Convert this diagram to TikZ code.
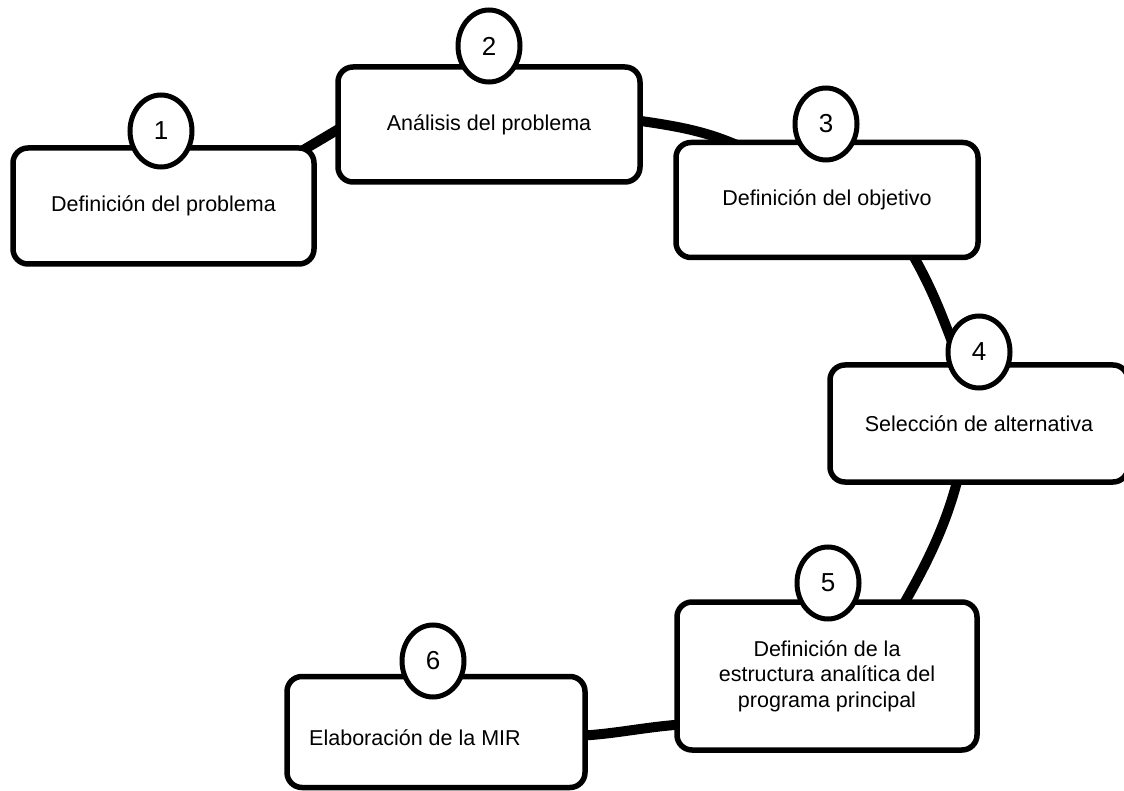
\documentclass[tikz,border=0pt]{standalone}
\usepackage{fontspec}
\setmainfont{Liberation Sans}
\usetikzlibrary{shapes.geometric,calc}
\pgfdeclarelayer{bg}
\pgfsetlayers{bg,main}
\begin{document}
\begin{tikzpicture}[x=1pt,y=-1pt,
  stepbox/.style={draw, line width=5.5pt, rounded corners=15pt, fill=white,
    font=\fontsize{21.5}{25.5}\selectfont, align=center, inner sep=0pt},
  numcirc/.style={ellipse, draw, line width=5pt, fill=white,
    minimum width=62pt, minimum height=72pt, inner sep=0pt,
    font=\fontsize{26}{28}\selectfont},
  lbl/.style={font=\fontsize{21.5}{25.5}\selectfont, inner sep=0pt},
  conn/.style={line width=10pt}]
\useasboundingbox (0,0) rectangle (1124,791);
\clip (0,0) rectangle (1124,791);
% boxes
\node[stepbox, minimum width=301pt, minimum height=116pt] (b1) at (163.5,206) {Definición del problema};
\node[stepbox, minimum width=302pt, minimum height=115pt] (b2) at (489,124.5) {Análisis del problema};
\node[stepbox, minimum width=302pt, minimum height=115pt] (b3) at (827,200) {Definición del objetivo};
\node[stepbox, minimum width=298pt, minimum height=117pt] (b4) at (979,423.5) {Selección de alternativa};
\node[stepbox, minimum width=300pt, minimum height=148pt] (b5) at (827,676) {Definición de la\\estructura analítica del\\programa principal};
\node[stepbox, minimum width=298pt, minimum height=111pt] (b6) at (436,732) {};
\node[lbl] (t6) at (415,738) {Elaboración de la MIR};
% number circles
\node[numcirc] (c1) at (161,131) {1};
\node[numcirc] (c2) at (489,46) {2};
\node[numcirc] (c3) at (826,124) {3};
\node[numcirc] (c4) at (979,352) {4};
\node[numcirc] (c5) at (828,583) {5};
\node[numcirc] (c6) at (433,661) {6};
% connectors (behind)
\begin{pgfonlayer}{bg}
\draw[conn] ($(b1.north east)+(-29,14)$) -- ($(b2.west)+(22,-6.5)$);
\draw[conn] ($(b2.east)+(-20,-6)$) .. controls ($(b2.east)+(40,2)$) and ($(b3.north west)+(34,-8)$) .. ($(b3.north west)+(70,8)$);
\draw[conn] ($(b3.south east)+(-72,-12)$) .. controls ($(b3.south east)+(-48,28)$) and ($(c4.west)+(-2,-32)$) .. ($(c4.west)+(12,4)$);
\draw[conn] ($(b4.south west)+(132,-12)$) .. controls ($(b4.south west)+(120,38)$) and ($(b5.north east)+(-52,-37)$) .. ($(b5.north east)+(-79,10)$);
\draw[conn] ($(b6.east)+(-15,4)$) .. controls ($(b6.east)+(25,3)$) and ($(b5.west)+(-27,50)$) .. ($(b5.west)+(15,48)$);
\end{pgfonlayer}
\end{tikzpicture}
\end{document}
